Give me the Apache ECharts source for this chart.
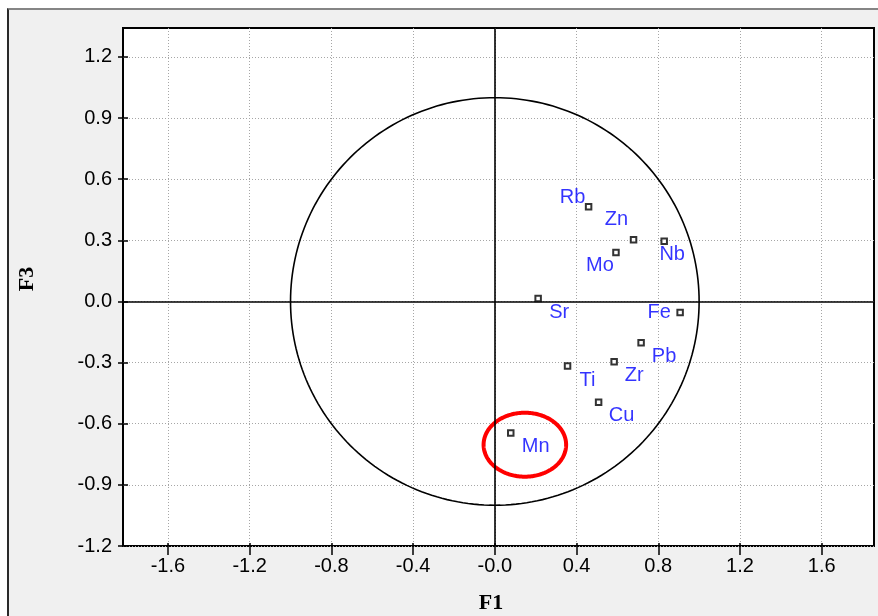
<!DOCTYPE html>
<html>
<head>
<meta charset="utf-8">
<title>F1 / F3 correlation circle</title>
<script src="https://cdn.jsdelivr.net/npm/echarts@6/dist/echarts.min.js"></script>
<style>
  html, body { margin: 0; padding: 0; background: #ffffff; }
  #wrap { position: relative; width: 878px; height: 616px; overflow: hidden; }
  #panel {
    position: absolute; left: 7px; top: 8px; width: 900px; height: 700px;
    background: #f0f0f0;
    border-top: 2px solid #858585;
    border-left: 2px solid #2a2a2a;
  }
  #chart { position: absolute; left: 0; top: 0; width: 878px; height: 616px; }
</style>
</head>
<body>
<div id="wrap"><div id="panel"></div><div id="chart"></div></div>
<script>
// Variable loadings on factors F1 and F3
const elements = ['Rb', 'Zn', 'Nb', 'Mo', 'Sr', 'Fe', 'Pb', 'Ti', 'Zr', 'Cu', 'Mn'];
const f1 = [0.459, 0.679, 0.829, 0.593, 0.212, 0.907, 0.716, 0.356, 0.584, 0.508, 0.078];
const f3 = [0.465, 0.303, 0.295, 0.240, 0.014, -0.054, -0.203, -0.317, -0.296, -0.495, -0.645];

// Axis ticks and their printed labels
const xTicks = [-1.6, -1.2, -0.8, -0.4, 0, 0.4, 0.8, 1.2, 1.6];
const xTickLabels = ['-1.6', '-1.2', '-0.8', '-0.4', '-0.0', '0.4', '0.8', '1.2', '1.6'];
const yTicks = [-1.2, -0.9, -0.6, -0.3, 0, 0.3, 0.6, 0.9, 1.2];
const yTickLabels = ['-1.2', '-0.9', '-0.6', '-0.3', '0.0', '0.3', '0.6', '0.9', '1.2'];

// Axis extents
const xRange = [-1.82, 1.856];
const yRange = [-1.2, 1.342];

// Ellipses: centre x, centre y, radius x, radius y (data units)
const correlationCircle = [0, 0, 1, 1];
const mnHighlight = [0.147, -0.703, 0.202, 0.157];

// Label placement around each marker (pixels)
const labelOffset = {
  Rb: [-16, -9], Zn: [-17, -20], Nb: [8, 13], Mo: [-16, 13], Sr: [21, 14],
  Fe: [-21, 0], Pb: [23, 14], Ti: [20, 14], Zr: [20, 14], Cu: [23, 13], Mn: [25, 14]
};

const SANS = '"Liberation Sans", Arial, sans-serif';
const SERIF = '"Liberation Serif", "Times New Roman", serif';

function tickLabel(ticks, labels) {
  return function (v) {
    const i = ticks.findIndex(function (t) { return Math.abs(t - v) < 1e-6; });
    return i >= 0 ? labels[i] : '';
  };
}

function ellipseSeries(params, color, width) {
  return {
    type: 'custom',
    coordinateSystem: 'cartesian2d',
    silent: true,
    clip: true,
    z: 3,
    data: [params],
    renderItem: function (p, api) {
      const cx = api.value(0), cy = api.value(1), rx = api.value(2), ry = api.value(3);
      const pts = [];
      const n = 240;
      for (let k = 0; k < n; k++) {
        const t = (k / n) * Math.PI * 2;
        pts.push(api.coord([cx + rx * Math.cos(t), cy + ry * Math.sin(t)]));
      }
      return {
        type: 'polygon',
        shape: { points: pts },
        style: { fill: 'none', stroke: color, lineWidth: width }
      };
    }
  };
}

const gridLine = { show: true, lineStyle: { color: '#a6a6a6', width: 1, type: [1, 2] } };

const chart = echarts.init(document.getElementById('chart'), null, { renderer: 'canvas' });
chart.setOption({
  animation: false,
  backgroundColor: 'transparent',
  grid: {
    left: 123, top: 28, right: 4, bottom: 70,
    show: true, backgroundColor: '#ffffff', borderColor: '#000000', borderWidth: 2
  },
  xAxis: [
    {
      type: 'value', min: xRange[0], max: xRange[1], position: 'bottom',
      axisLine: { show: false, onZero: false },
      axisTick: { show: true, customValues: xTicks, length: 9, lineStyle: { color: '#000', width: 1.5 } },
      axisLabel: {
        customValues: xTicks, formatter: tickLabel(xTicks, xTickLabels),
        margin: 10, color: '#000', fontSize: 20, fontFamily: SANS
      },
      splitLine: gridLine
    },
    {
      type: 'value', min: xRange[0], max: xRange[1], position: 'bottom',
      axisLine: { show: false, onZero: false },
      axisTick: { show: true, inside: true, customValues: xTicks, length: 3, lineStyle: { color: '#000', width: 1.5 } },
      axisLabel: { show: false },
      splitLine: { show: false }
    }
  ],
  yAxis: [
    {
      type: 'value', min: yRange[0], max: yRange[1], position: 'left',
      axisLine: { show: false, onZero: false },
      axisTick: { show: true, customValues: yTicks, length: 5, lineStyle: { color: '#000', width: 1.5 } },
      axisLabel: {
        customValues: yTicks, formatter: tickLabel(yTicks, yTickLabels),
        margin: 11, color: '#000', fontSize: 20, fontFamily: SANS, padding: [8, 0, 0, 0]
      },
      splitLine: gridLine
    },
    {
      type: 'value', min: yRange[0], max: yRange[1], position: 'left',
      axisLine: { show: false, onZero: false },
      axisTick: { show: true, inside: true, customValues: yTicks, length: 5, lineStyle: { color: '#000', width: 1.5 } },
      axisLabel: { show: false },
      splitLine: { show: false }
    }
  ],
  graphic: [
    {
      type: 'text', x: 491, y: 603, z: 10,
      style: {
        text: 'F1', textAlign: 'center', textVerticalAlign: 'middle',
        align: 'center', verticalAlign: 'middle',
        font: 'bold 22px ' + SERIF, fill: '#000'
      }
    },
    {
      type: 'text', x: 27, y: 279, rotation: Math.PI / 2, z: 10,
      style: {
        text: 'F3', textAlign: 'center', textVerticalAlign: 'middle',
        align: 'center', verticalAlign: 'middle',
        font: 'bold 22px ' + SERIF, fill: '#000'
      }
    }
  ],
  series: [
    ellipseSeries(correlationCircle, '#000000', 1.6),
    ellipseSeries(mnHighlight, '#ff0000', 4),
    {
      type: 'scatter',
      z: 5,
      symbol: 'rect',
      symbolSize: 5.5,
      itemStyle: { color: '#ffffff', borderColor: '#000000', borderWidth: 2 },
      label: {
        show: true, position: 'inside', formatter: '{b}',
        color: '#0000ff', fontSize: 20, fontFamily: SANS
      },
      data: elements.map(function (name, i) {
        return { name: name, value: [f1[i], f3[i]], label: { offset: labelOffset[name] } };
      }),
      markLine: {
        silent: true,
        symbol: 'none',
        label: { show: false },
        lineStyle: { color: '#000000', width: 1.6, type: 'solid' },
        emphasis: { disabled: true },
        data: [{ xAxis: 0 }, { yAxis: 0 }]
      }
    }
  ]
});
</script>
</body>
</html>
